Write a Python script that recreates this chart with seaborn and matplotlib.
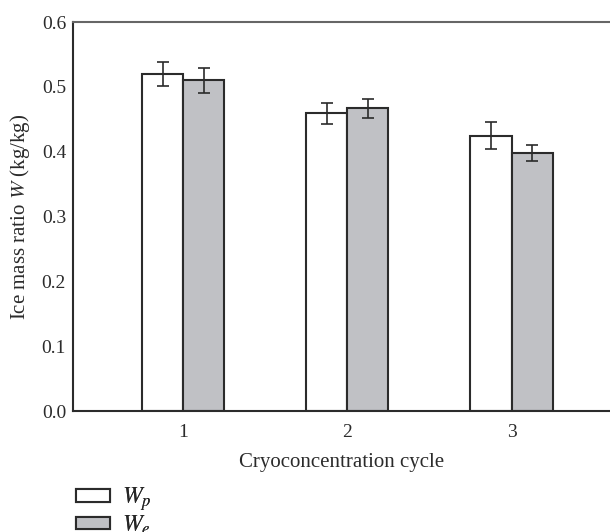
import matplotlib
matplotlib.use("Agg")
import matplotlib.pyplot as plt
import seaborn as sns
import pandas as pd
import numpy as np
from matplotlib.patches import Patch

cycles = ["1", "2", "3"]
series = ["$W_p$", "$W_e$"]
wp = [0.520, 0.459, 0.4245]
we = [0.510, 0.467, 0.398]
wp_err = [0.018, 0.016, 0.021]
we_err = [0.019, 0.015, 0.0125]
yticks = [0.0, 0.1, 0.2, 0.3, 0.4, 0.5, 0.6]

sns.set_theme(style="white")
plt.rcParams["font.family"] = ["Liberation Serif", "DejaVu Serif"]
plt.rcParams["mathtext.fontset"] = "stix"

df = pd.DataFrame({
    "cycle": cycles * 2,
    "series": [series[0]] * 3 + [series[1]] * 3,
    "value": wp + we,
    "err": wp_err + we_err,
})

fig = plt.figure(figsize=(6.10, 5.32), dpi=100)
ax = fig.add_axes([0.1197, 0.2274, 0.8803, 0.7312])

colors = ["#ffffff", "#c0c1c5"]
sns.barplot(data=df, x="cycle", y="value", hue="series", order=cycles,
            hue_order=series, palette=colors, width=0.5, errorbar=None,
            edgecolor="#2b2b2b", linewidth=1.5, saturation=1, ax=ax,
            legend=False)

bars = [p for p in ax.patches]
for p, (_, row) in zip(bars, df.iterrows()):
    cx = p.get_x() + p.get_width() / 2
    ax.errorbar(cx, p.get_height(), yerr=row["err"], fmt="none",
                ecolor="#2b2b2b", elinewidth=1.2, capsize=4.5, capthick=1.2)

ax.set_ylim(0, 0.6)
ax.set_xlim(-0.671, 2.60)
ax.set_yticks(yticks)
ax.set_yticklabels([f"{t:.1f}" for t in yticks])
ax.tick_params(axis="both", direction="in", length=4, width=1, labelsize=14,
               colors="#2b2b2b", pad=5)
ax.tick_params(axis="x", length=0, pad=9)
for lab in ax.get_xticklabels() + ax.get_yticklabels():
    lab.set_color("#2b2b2b")

ax.set_xlabel("Cryoconcentration cycle", fontsize=15, color="#2b2b2b", labelpad=9)
ax.set_ylabel("Ice mass ratio $W$ (kg/kg)", fontsize=15, color="#2b2b2b", labelpad=7)

for s in ["left", "bottom"]:
    ax.spines[s].set_color("#2b2b2b")
    ax.spines[s].set_linewidth(1.5)
ax.spines["top"].set_color("#666666")
ax.spines["top"].set_linewidth(1.5)
ax.spines["right"].set_visible(False)

ys = [1 - 499 / 532, 1 - 525 / 532]
for i in range(2):
    h = Patch(facecolor=colors[i], edgecolor="#2b2b2b", linewidth=1.5)
    leg = fig.legend([h], [series[i]], loc="center left",
                     bbox_to_anchor=(76 / 610, ys[i]), frameon=False,
                     fontsize=17, handlelength=1.44, handleheight=0.45,
                     handletextpad=0.5, borderpad=0, borderaxespad=0)
    fig.add_artist(leg)

fig.savefig("out.png", dpi=100)
